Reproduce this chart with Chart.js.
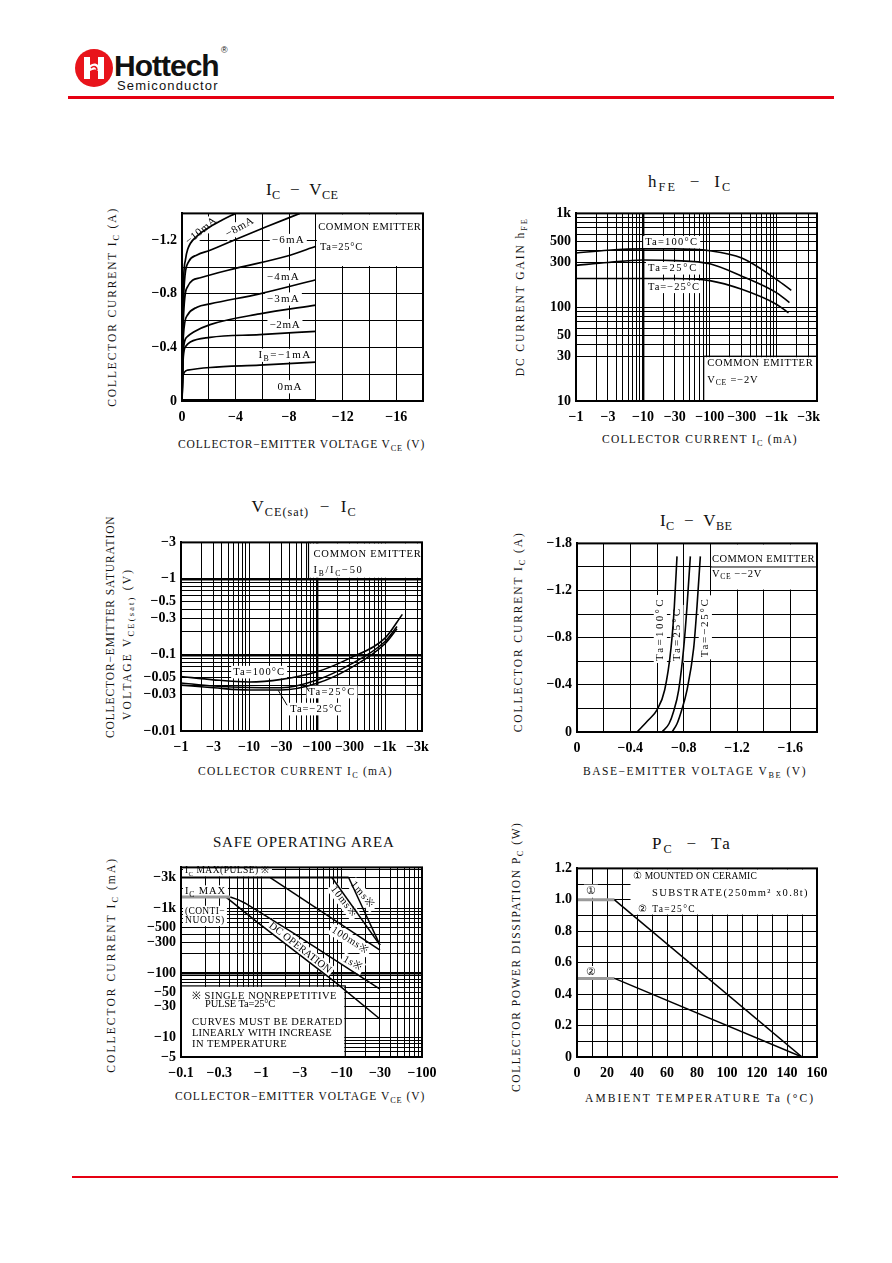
<!DOCTYPE html>
<html lang="en">
<head>
<meta charset="utf-8">
<title>Hottech Semiconductor – characteristic curves</title>
<script src="https://cdn.jsdelivr.net/npm/chart.js@4.4.1/dist/chart.umd.min.js"></script>
<style>
html,body{margin:0;padding:0;background:#fff;}
body{position:relative;width:892px;height:1263px;overflow:hidden;}
canvas.cv{position:absolute;}
.t{position:absolute;left:0;top:0;white-space:nowrap;color:#111;font-family:"Liberation Serif","DejaVu Serif",serif;line-height:1;}
.t sub{font-size:0.72em;vertical-align:-0.35em;line-height:0;}
.ttl{font-size:17px;}
.ttl5{font-size:15px;}
.ax{font-size:11.5px;}
</style>
</head>
<body>

<!-- header -->
<svg style="position:absolute;left:74px;top:48px" width="40" height="40" viewBox="0 0 40 40">
  <circle cx="20" cy="20" r="19" fill="#e8141b"/>
  <path d="M10 9 h6 v8 c3 -2 6 -2 8 0 v-8 h6 v22 h-6 v-8 c-2 -2 -5 -2 -8 0 v8 h-6 z" fill="#fff"/>
  <path d="M17 20 c3 -3 6 -1 6 2" stroke="#e8141b" stroke-width="1.6" fill="none"/>
</svg>
<div style="position:absolute;left:114px;top:51px;font:bold 30px 'Liberation Sans',Arial,sans-serif;line-height:30px;color:#111;letter-spacing:-1px">Hottech</div>
<div style="position:absolute;left:221px;top:45px;font:9px 'Liberation Sans',sans-serif;color:#111">®</div>
<div class="fit" data-w="102" style="position:absolute;left:117px;top:79px;font:13px 'Liberation Sans',sans-serif;line-height:13px;color:#111;white-space:nowrap">Semiconductor</div>
<div style="position:absolute;left:68px;top:96px;width:766px;height:3px;background:#e60012"></div>
<div style="position:absolute;left:72px;top:1176px;width:766px;height:2px;background:#e60012"></div>

<!-- chart titles -->
<div class="t ttl" data-cx="302" data-cy="189" data-w="72">I<sub>C</sub>&nbsp;&nbsp;−&nbsp;&nbsp;V<sub>CE</sub></div>
<div class="t ttl" data-cx="690" data-cy="181" data-w="84">h<sub>FE</sub>&nbsp;&nbsp;−&nbsp;&nbsp;I<sub>C</sub></div>
<div class="t ttl" data-cx="304" data-cy="506" data-w="105">V<sub>CE(sat)</sub>&nbsp;&nbsp;−&nbsp;&nbsp;I<sub>C</sub></div>
<div class="t ttl" data-cx="696" data-cy="520" data-w="72">I<sub>C</sub>&nbsp;&nbsp;−&nbsp;&nbsp;V<sub>BE</sub></div>
<div class="t ttl5" data-cx="304" data-cy="842" data-w="182">SAFE OPERATING AREA</div>
<div class="t ttl" data-cx="692" data-cy="843" data-w="80">P<sub>C</sub>&nbsp;&nbsp;−&nbsp;&nbsp;Ta</div>

<!-- axis titles -->
<div class="t ax" data-cx="301.5" data-cy="445" data-w="247">COLLECTOR−EMITTER VOLTAGE V<sub>CE</sub> (V)</div>
<div class="t ax" data-cx="113" data-cy="307" data-w="200" data-rot="1">COLLECTOR CURRENT I<sub>C</sub> (A)</div>
<div class="t ax" data-cx="700" data-cy="440" data-w="196">COLLECTOR CURRENT I<sub>C</sub> (mA)</div>
<div class="t ax" data-cx="520" data-cy="297" data-w="159" data-rot="1">DC CURRENT GAIN h<sub>FE</sub></div>
<div class="t ax" data-cx="295.5" data-cy="772" data-w="195">COLLECTOR CURRENT I<sub>C</sub> (mA)</div>
<div class="t ax" data-cx="110" data-cy="626.5" data-w="223" data-rot="1">COLLECTOR−EMITTER SATURATION</div>
<div class="t ax" data-cx="128" data-cy="644" data-w="152" data-rot="1">VOLTAGE V<sub>CE(sat)</sub> (V)</div>
<div class="t ax" data-cx="695" data-cy="772" data-w="224">BASE−EMITTER VOLTAGE V<sub>BE</sub> (V)</div>
<div class="t ax" data-cx="518" data-cy="632" data-w="201" data-rot="1">COLLECTOR CURRENT I<sub>C</sub> (A)</div>
<div class="t ax" data-cx="300" data-cy="1097" data-w="250">COLLECTOR−EMITTER VOLTAGE V<sub>CE</sub> (V)</div>
<div class="t ax" data-cx="112" data-cy="965" data-w="216" data-rot="1">COLLECTOR CURRENT I<sub>C</sub> (mA)</div>
<div class="t ax" data-cx="700" data-cy="1099" data-w="230">AMBIENT TEMPERATURE Ta (°C)</div>
<div class="t ax" data-cx="517" data-cy="957" data-w="270" data-rot="1">COLLECTOR POWER DISSIPATION P<sub>C</sub> (W)</div>

<script>
// ================= DATA =================
// All currents / voltages are plotted as magnitudes; the printed tick labels carry the minus sign.

// ---- Chart 1: IC - VCE  (|VCE| V, |IC| A) ----
const c1GridX = [0, 2, 4, 6, 8, 10, 12, 14, 16, 18];
const c1GridY = [0, 0.2, 0.4, 0.6, 0.8, 1.0, 1.2, 1.4];
const c1TickX = [0, 4, 8, 12, 16];
const c1TickXLabels = ['0', '−4', '−8', '−12', '−16'];
const c1TickY = [0, 0.4, 0.8, 1.2];
const c1TickYLabels = ['0', '−0.4', '−0.8', '−1.2'];
const ib10mA = [[0, 0], [0.1, 0.85], [0.25, 1.05], [0.42, 1.13], [1.12, 1.23], [2.1, 1.30], [3.0, 1.35], [4.0, 1.40]];
const ib8mA  = [[0, 0], [0.1, 0.75], [0.5, 1.04], [1.12, 1.09], [2.1, 1.125], [4.0, 1.205], [6.3, 1.30], [8.8, 1.40]];
const ib6mA  = [[0, 0], [0.1, 0.60], [0.4, 0.85], [1.37, 0.92], [4.0, 0.99], [7.8, 1.08], [10, 1.155]];
const ib4mA  = [[0, 0], [0.1, 0.48], [0.4, 0.64], [1.12, 0.70], [2.1, 0.725], [5.8, 0.80], [10, 0.905]];
const ib3mA  = [[0, 0], [0.1, 0.38], [0.4, 0.48], [0.87, 0.515], [2.1, 0.57], [5.8, 0.65], [10, 0.715]];
const ib2mA  = [[0, 0], [0.1, 0.33], [0.3, 0.41], [0.62, 0.44], [2.1, 0.475], [5.8, 0.495], [10, 0.52]];
const ib1mA  = [[0, 0], [0.08, 0.19], [0.42, 0.23], [2.1, 0.25], [5.8, 0.267], [10, 0.29]];
const ib0mA  = [[0, 0], [10, 0]];

// ---- Chart 2: hFE - IC  (|IC| mA, hFE) ----
const c2GridX = [1, 2, 3, 4, 5, 6, 7, 8, 9, 10, 20, 30, 40, 50, 60, 70, 80, 90, 100, 200, 300, 400, 500, 600, 700, 800, 900, 1000, 2000, 3000, 4000];
const c2GridY = [10, 30, 40, 50, 60, 70, 80, 90, 100, 200, 300, 400, 500, 600, 700, 800, 900, 1000];
const c2TickX = [1, 3, 10, 30, 100, 300, 1000, 3000];
const c2TickXLabels = ['−1', '−3', '−10', '−30', '−100', '−300', '−1k', '−3k'];
const c2TickY = [10, 30, 50, 100, 300, 500, 1000];
const c2TickYLabels = ['10', '30', '50', '100', '300', '500', '1k'];
const hfeTa100 = [[1, 378], [3, 405], [10, 419], [30, 419], [100, 400], [300, 334], [1000, 197], [1650, 151]];
const hfeTa25  = [[1, 279], [3, 300], [10, 318], [30, 314], [100, 290], [300, 214], [1000, 142], [1550, 112]];
const hfeTaM25 = [[1, 202], [10, 202], [30, 202], [100, 192], [300, 155], [1000, 107], [1500, 87]];

// ---- Chart 3: VCE(sat) - IC  (|IC| mA, |VCE(sat)| V) ----
const c3GridX = [1, 2, 3, 4, 5, 6, 7, 8, 9, 10, 20, 30, 40, 50, 60, 70, 80, 90, 100, 200, 300, 400, 500, 600, 700, 800, 900, 1000, 2000, 3000];
const c3GridY = [0.01, 0.03, 0.04, 0.05, 0.06, 0.07, 0.08, 0.09, 0.1, 0.2, 0.3, 0.4, 0.5, 0.6, 0.7, 0.8, 0.9, 1, 3];
const c3TickX = [1, 3, 10, 30, 100, 300, 1000, 3000];
const c3TickXLabels = ['−1', '−3', '−10', '−30', '−100', '−300', '−1k', '−3k'];
const c3TickY = [0.01, 0.03, 0.05, 0.1, 0.3, 0.5, 1, 3];
const c3TickYLabels = ['−0.01', '−0.03', '−0.05', '−0.1', '−0.3', '−0.5', '−1', '−3'];
const vsatTa100 = [[1, 0.052], [3, 0.047], [10, 0.044], [30, 0.0477], [100, 0.060], [300, 0.090], [1000, 0.166], [1800, 0.34]];
const vsatTa25  = [[1, 0.0427], [3, 0.039], [10, 0.0372], [30, 0.037], [100, 0.0468], [300, 0.0738], [1000, 0.15], [1500, 0.236]];
const vsatTaM25 = [[1, 0.040], [3, 0.037], [10, 0.0345], [30, 0.0345], [100, 0.0423], [300, 0.066], [1000, 0.14], [1500, 0.22]];

// ---- Chart 4: IC - VBE  (|VBE| V, |IC| A) ----
const c4GridX = [0, 0.2, 0.4, 0.6, 0.8, 1.0, 1.2, 1.4, 1.6, 1.8];
const c4GridY = [0, 0.2, 0.4, 0.6, 0.8, 1.0, 1.2, 1.4, 1.6];
const c4TickX = [0, 0.4, 0.8, 1.2, 1.6];
const c4TickXLabels = ['0', '−0.4', '−0.8', '−1.2', '−1.6'];
const c4TickY = [0, 0.4, 0.8, 1.2, 1.6];
const c4TickYLabels = ['0', '−0.4', '−0.8', '−1.2', '−1.8'];
const vbeTa100 = [[0.45, 0], [0.5375, 0.104], [0.6, 0.188], [0.6575, 0.356], [0.705, 0.711], [0.73, 1.064], [0.75, 1.49]];
const vbeTa25  = [[0.6375, 0], [0.69, 0.07], [0.725, 0.176], [0.7625, 0.356], [0.8, 0.711], [0.825, 1.064], [0.85, 1.49]];
const vbeTaM25 = [[0.7125, 0], [0.75, 0.07], [0.7825, 0.176], [0.825, 0.356], [0.875, 0.711], [0.9, 1.064], [0.925, 1.49]];

// ---- Chart 5: Safe operating area  (|VCE| V, |IC| mA) ----
const c5GridX = [0.1, 0.2, 0.3, 0.4, 0.5, 0.6, 0.7, 0.8, 0.9, 1, 2, 3, 4, 5, 6, 7, 8, 9, 10, 20, 30, 40, 50, 60, 70, 80, 90, 100];
const c5GridY = [5, 6, 7, 8, 9, 10, 20, 30, 40, 50, 60, 70, 80, 90, 100, 200, 300, 400, 500, 600, 700, 800, 900, 1000, 2000, 3000, 4000];
const c5TickX = [0.1, 0.3, 1, 3, 10, 30, 100];
const c5TickXLabels = ['−0.1', '−0.3', '−1', '−3', '−10', '−30', '−100'];
const c5TickY = [5, 10, 30, 50, 100, 300, 500, 1000, 3000];
const c5TickYLabels = ['−5', '−10', '−30', '−50', '−100', '−300', '−500', '−1k', '−3k'];
const soaIcMaxPulse = [[0.1, 3000], [12.2, 3000]];
const soaIcMax      = [[0.1, 1500], [0.41, 1500]];
const soa1ms        = [[12.2, 3000], [30, 270]];
const soa10ms       = [[7.57, 3000], [30, 270]];
const soa100ms      = [[1.29, 3000], [30, 225]];
const soa1s         = [[0.41, 1500], [0.52, 1350], [0.63, 1200], [2.4, 430], [30, 56]];
const soaDC         = [[0.36, 1500], [0.92, 590], [8.3, 72], [30, 19.4]];

// ---- Chart 6: PC - Ta  (Ta °C, PC W) ----
const c6GridX = [0, 10, 20, 30, 40, 50, 60, 70, 80, 90, 100, 110, 120, 130, 140, 150, 160];
const c6GridY = [0, 0.1, 0.2, 0.3, 0.4, 0.5, 0.6, 0.7, 0.8, 0.9, 1.0, 1.1, 1.2];
const c6TickX = [0, 20, 40, 60, 80, 100, 120, 140, 160];
const c6TickXLabels = ['0', '20', '40', '60', '80', '100', '120', '140', '160'];
const c6TickY = [0, 0.2, 0.4, 0.6, 0.8, 1.0, 1.2];
const c6TickYLabels = ['0', '0.2', '0.4', '0.6', '0.8', '1.0', '1.2'];
const pcCeramic = [[0, 1.0], [25, 1.0], [150, 0]];
const pcFreeAir = [[0, 0.5], [25, 0.5], [150, 0]];

// ================= RENDERING =================
const FONT = 'Liberation Serif';
const NOTE_FONT = '"Liberation Serif", "DejaVu Serif", serif';
Chart.defaults.font.family = FONT;
Chart.defaults.color = '#000';
const PAD = { l: 52, t: 12, r: 26, b: 26 };

function buildScale(o, pos) {
  return {
    type: o.type, min: o.min, max: o.max, position: pos, bounds: 'data',
    afterBuildTicks: s => { s.ticks = o.grid.map(v => ({ value: v })); },
    afterFit: s => {
      if (pos === 'left') { s.width = PAD.l; }
      else { s.height = PAD.b; s.paddingLeft = 0; s.paddingRight = 0; }
    },
    ticks: {
      autoSkip: false, maxRotation: 0, minRotation: 0, color: '#000',
      padding: pos === 'left' ? 5 : 8,
      font: { family: FONT, size: 14, weight: 'bold' },
      callback: v => { const i = o.tv.indexOf(v); return i < 0 ? '' : o.tl[i]; }
    },
    grid: {
      color: '#000', drawTicks: false,
      lineWidth: c => (o.heavy && c.tick && o.heavy.includes(c.tick.value)) ? 2.4 : 1
    },
    border: { display: true, color: '#000', width: 2 }
  };
}

function curve(pts, o = {}) {
  const d = {
    data: pts.map(([x, y]) => ({ x, y })),
    borderColor: o.color || '#000', borderWidth: o.w || 1.6,
    pointRadius: 0, fill: false, tension: 0,
    cubicInterpolationMode: o.smooth ? 'monotone' : 'default'
  };
  if (o.segment) d.segment = o.segment;
  return d;
}

function drawNote(ctx, n, x, y, mode) {
  const size = n.size || 10.5;
  const segs = (Array.isArray(n.t) ? n.t : [n.t]).map(s => typeof s === 'string' ? { s, k: '' } : { s: s[0], k: s[1] });
  const fontOf = k => (k ? (size * 0.72).toFixed(1) : size) + 'px ' + NOTE_FONT;
  const hasLS = 'letterSpacing' in ctx;
  if (hasLS) ctx.letterSpacing = '0px';
  let w = 0, chars = 0;
  segs.forEach(g => { ctx.font = fontOf(g.k); g.w = ctx.measureText(g.s).width; w += g.w; chars += g.s.length; });
  let ls = 0;
  if (n.w && hasLS && chars > 1) { ls = (n.w - w) / chars; w = n.w; }
  ctx.save();
  ctx.translate(x, y);
  if (n.a) ctx.rotate(n.a * Math.PI / 180);
  let x0 = n.al === 'left' ? 0 : n.al === 'right' ? -w : -w / 2;
  if (mode === 'bg') {
    ctx.fillStyle = '#fff';
    ctx.fillRect(x0 - 2, -size * 0.6, w + 4, size * 1.2);
  } else {
    ctx.fillStyle = '#000'; ctx.textBaseline = 'middle'; ctx.textAlign = 'left';
    segs.forEach(g => {
      ctx.font = fontOf(g.k);
      if (hasLS) ctx.letterSpacing = ls + 'px';
      const dy = g.k === 'sub' ? size * 0.32 : g.k === 'sup' ? -size * 0.35 : 0;
      ctx.fillText(g.s, x0, dy);
      x0 += g.w + ls * g.s.length;
    });
  }
  ctx.restore();
  if (hasLS) ctx.letterSpacing = '0px';
}

function notesPlugin(notes) {
  const PX = (c, v) => c.scales.x.getPixelForValue(v);
  const PY = (c, v) => c.scales.y.getPixelForValue(v);
  return {
    id: 'notes',
    beforeDatasetsDraw(c) {
      const ctx = c.ctx;
      ctx.save();
      (notes.boxes || []).forEach(b => {
        const xa = PX(c, b.x0), xb = PX(c, b.x1), ya = PY(c, b.y0), yb = PY(c, b.y1);
        const x0 = Math.min(xa, xb), x1 = Math.max(xa, xb), y0 = Math.min(ya, yb), y1 = Math.max(ya, yb);
        ctx.fillStyle = '#fff';
        ctx.fillRect(x0 + 1, y0 + 1, x1 - x0 - 2, y1 - y0 - 2);
        if (b.stroke) { ctx.strokeStyle = '#000'; ctx.lineWidth = 1.2; ctx.strokeRect(x0, y0, x1 - x0, y1 - y0); }
      });
      (notes.texts || []).forEach(n => { if (n.bg) drawNote(ctx, n, PX(c, n.x), PY(c, n.y), 'bg'); });
      (notes.lines || []).forEach(l => {
        ctx.strokeStyle = '#000'; ctx.lineWidth = l.w || 1;
        ctx.beginPath(); ctx.moveTo(PX(c, l.x0), PY(c, l.y0)); ctx.lineTo(PX(c, l.x1), PY(c, l.y1)); ctx.stroke();
      });
      ctx.restore();
    },
    afterDatasetsDraw(c) {
      const ctx = c.ctx;
      (notes.texts || []).forEach(n => drawNote(ctx, n, PX(c, n.x), PY(c, n.y), 'text'));
    },
    afterDraw(c) {
      const a = c.chartArea, ctx = c.ctx;
      ctx.save(); ctx.strokeStyle = '#000'; ctx.lineWidth = 2;
      ctx.strokeRect(a.left, a.top, a.right - a.left, a.bottom - a.top);
      ctx.restore();
    }
  };
}

function makeChart(box, sx, sy, datasets, notes) {
  const cv = document.createElement('canvas');
  cv.className = 'cv';
  const W = box.R - box.L + PAD.l + PAD.r, H = box.B - box.T + PAD.t + PAD.b;
  cv.width = W; cv.height = H;
  cv.style.left = (box.L - PAD.l) + 'px'; cv.style.top = (box.T - PAD.t) + 'px';
  cv.style.width = W + 'px'; cv.style.height = H + 'px';
  document.body.appendChild(cv);
  return new Chart(cv, {
    type: 'line',
    data: { datasets },
    options: {
      responsive: false, animation: false, events: [], devicePixelRatio: 1,
      layout: { padding: { top: PAD.t, right: PAD.r, left: 0, bottom: 0 } },
      plugins: { legend: { display: false }, tooltip: { enabled: false } },
      scales: { x: buildScale(sx, 'bottom'), y: buildScale(sy, 'left') }
    },
    plugins: [notesPlugin(notes)]
  });
}

// ---- Chart 1 ----
makeChart({ L: 182, T: 212, R: 423, B: 401 },
  { type: 'linear', min: 0, max: 18, grid: c1GridX, tv: c1TickX, tl: c1TickXLabels },
  { type: 'linear', min: 0, max: 1.4, grid: c1GridY, tv: c1TickY, tl: c1TickYLabels },
  [curve(ib10mA, { smooth: 1, w: 1.7 }), curve(ib8mA, { smooth: 1, w: 1.7 }), curve(ib6mA, { smooth: 1, w: 1.7 }),
   curve(ib4mA, { smooth: 1, w: 1.7 }), curve(ib3mA, { smooth: 1, w: 1.7 }), curve(ib2mA, { smooth: 1, w: 1.7 }),
   curve(ib1mA, { smooth: 1, w: 1.7 }), curve(ib0mA, { w: 4 })],
  {
    boxes: [{ x0: 10, x1: 18, y0: 1.0, y1: 1.4 }],
    texts: [
      { t: '−10mA', x: 1.44, y: 1.27, a: -39, bg: 1, w: 37, size: 11 },
      { t: '−8mA', x: 4.33, y: 1.296, a: -29, bg: 1, w: 31, size: 11 },
      { t: '−6mA', x: 7.94, y: 1.198, bg: 1, w: 33, size: 11 },
      { t: '−4mA', x: 7.57, y: 0.926, bg: 1, w: 33, size: 11 },
      { t: '−3mA', x: 7.57, y: 0.761, bg: 1, w: 33, size: 11 },
      { t: '−2mA', x: 7.69, y: 0.563, bg: 1, w: 31, size: 11 },
      { t: ['I', ['B', 'sub'], '=−1mA'], x: 7.69, y: 0.341, bg: 1, w: 53, size: 11 },
      { t: '0mA', x: 8.07, y: 0.106, bg: 1, w: 25, size: 11 },
      { t: 'COMMON EMITTER', x: 10.18, y: 1.296, al: 'left', w: 103 },
      { t: 'Ta=25°C', x: 10.3, y: 1.148, al: 'left', w: 43 }
    ]
  });

// ---- Chart 2 ----
makeChart({ L: 576, T: 212, R: 817, B: 401 },
  { type: 'logarithmic', min: 1, max: 4000, grid: c2GridX, tv: c2TickX, tl: c2TickXLabels, heavy: [10] },
  { type: 'logarithmic', min: 10, max: 1000, grid: c2GridY, tv: c2TickY, tl: c2TickYLabels },
  [curve(hfeTa100, { smooth: 1 }), curve(hfeTa25, { smooth: 1 }), curve(hfeTaM25, { smooth: 1 })],
  {
    boxes: [{ x0: 81, x1: 4000, y0: 10, y1: 30, stroke: 1 }],
    texts: [
      { t: 'Ta=100°C', x: 10.8, y: 493, al: 'left', bg: 1, w: 53 },
      { t: 'Ta=25°C', x: 11.9, y: 260, al: 'left', bg: 1, w: 50 },
      { t: 'Ta=−25°C', x: 11.9, y: 165, al: 'left', bg: 1, w: 52 },
      { t: 'COMMON EMITTER', x: 91.9, y: 25.4, al: 'left', w: 106 },
      { t: ['V', ['CE', 'sub'], ' =−2V'], x: 91.9, y: 16.7, al: 'left', w: 51 }
    ]
  });

// ---- Chart 3 ----
makeChart({ L: 181, T: 541, R: 422, B: 731 },
  { type: 'logarithmic', min: 1, max: 3500, grid: c3GridX, tv: c3TickX, tl: c3TickXLabels, heavy: [100] },
  { type: 'logarithmic', min: 0.01, max: 3, grid: c3GridY, tv: c3TickY, tl: c3TickYLabels, heavy: [1, 0.1] },
  [curve(vsatTa100, { smooth: 1 }), curve(vsatTa25, { smooth: 1 }), curve(vsatTaM25, { smooth: 1 })],
  {
    boxes: [{ x0: 75, x1: 3500, y0: 1, y1: 3, stroke: 1 }],
    lines: [{ x0: 26.9, y0: 0.0342, x1: 36.3, y1: 0.0218 }, { x0: 67.1, y0: 0.0398, x1: 76.7, y1: 0.0331 }],
    texts: [
      { t: 'Ta=100°C', x: 14.1, y: 0.0593, bg: 1, w: 52 },
      { t: 'Ta=25°C', x: 166, y: 0.0325, bg: 1, w: 47 },
      { t: 'Ta=−25°C', x: 97.4, y: 0.0194, bg: 1, w: 52 },
      { t: 'COMMON EMITTER', x: 88.9, y: 2.09, al: 'left', w: 108 },
      { t: ['I', ['B', 'sub'], '/I', ['C', 'sub'], '−50'], x: 88.9, y: 1.29, al: 'left', w: 50 }
    ]
  });

// ---- Chart 4 ----
makeChart({ L: 577, T: 542, R: 817, B: 732 },
  { type: 'linear', min: 0, max: 1.8, grid: c4GridX, tv: c4TickX, tl: c4TickXLabels },
  { type: 'linear', min: 0, max: 1.6, grid: c4GridY, tv: c4TickY, tl: c4TickYLabels },
  [curve(vbeTa100, { smooth: 1 }), curve(vbeTa25, { smooth: 1 }), curve(vbeTaM25, { smooth: 1 })],
  {
    boxes: [{ x0: 1.0, x1: 1.8, y0: 1.2, y1: 1.6 }],
    lines: [{ x0: 1.0, y0: 1.4, x1: 1.8, y1: 1.4 }],
    texts: [
      { t: 'Ta=100°C', x: 0.625, y: 0.874, a: -90, bg: 1, w: 64, size: 11 },
      { t: 'Ta=25°C', x: 0.75, y: 0.832, a: -90, bg: 1, w: 54, size: 11 },
      { t: 'Ta=−25°C', x: 0.9625, y: 0.888, a: -90, bg: 1, w: 60, size: 11 },
      { t: 'COMMON EMITTER', x: 1.0125, y: 1.462, al: 'left', w: 103 },
      { t: ['V', ['CE', 'sub'], ' −−2V'], x: 1.0125, y: 1.341, al: 'left', w: 50 }
    ]
  });

// ---- Chart 5 ----
makeChart({ L: 181, T: 866, R: 422, B: 1057 },
  { type: 'logarithmic', min: 0.1, max: 100, grid: c5GridX, tv: c5TickX, tl: c5TickXLabels },
  { type: 'logarithmic', min: 5, max: 4300, grid: c5GridY, tv: c5TickY, tl: c5TickYLabels, heavy: [100] },
  [curve(soaIcMaxPulse, { w: 1.8 }), curve(soaIcMax, { w: 3, color: '#9a9a9a' }),
   curve(soa1ms, { w: 1.5 }), curve(soa10ms, { w: 1.5 }), curve(soa100ms, { w: 1.5 }),
   curve(soa1s, { w: 1.5 }), curve(soaDC, { w: 1.5 })],
  {
    boxes: [{ x0: 0.1, x1: 11.1, y0: 5, y1: 63, stroke: 1 }],
    texts: [
      { t: ['I', ['C', 'sub'], ' MAX(PULSE) ※'], x: 0.112, y: 3800, al: 'left', bg: 1, w: 85, size: 9.5 },
      { t: ['I', ['C', 'sub'], ' MAX'], x: 0.112, y: 1810, al: 'left', bg: 1, w: 41 },
      { t: '(CONTI−', x: 0.112, y: 893, al: 'left', bg: 1, w: 40, size: 9.5 },
      { t: 'NUOUS)', x: 0.112, y: 650, al: 'left', bg: 1, w: 40, size: 9.5 },
      { t: 'DC OPERATION', x: 3.03, y: 244, a: 38, bg: 1, w: 76 },
      { t: '1s※', x: 13.7, y: 140, a: 30, bg: 1, w: 20 },
      { t: '100ms※', x: 12.8, y: 320, a: 32, bg: 1, w: 42 },
      { t: '10ms※', x: 10.6, y: 1271, a: 52, bg: 1, w: 36 },
      { t: '1ms※', x: 18.3, y: 1610, a: 50, bg: 1, w: 32 },
      { t: '※ SINGLE NONREPETITIVE', x: 0.137, y: 44.3, al: 'left', w: 145 },
      { t: 'PULSE Ta=25°C', x: 0.199, y: 33.3, al: 'left', w: 70 },
      { t: 'CURVES MUST BE DERATED', x: 0.137, y: 17.2, al: 'left', w: 151 },
      { t: 'LINEARLY WITH INCREASE', x: 0.137, y: 11.7, al: 'left', w: 140 },
      { t: 'IN TEMPERATURE', x: 0.137, y: 7.8, al: 'left', w: 95 }
    ]
  });

// ---- Chart 6 ----
const graySeg = { borderColor: c => c.p0.parsed.x < 25 ? '#9a9a9a' : '#000', borderWidth: c => c.p0.parsed.x < 25 ? 3 : 1.5 };
makeChart({ L: 577, T: 867, R: 817, B: 1057 },
  { type: 'linear', min: 0, max: 160, grid: c6GridX, tv: c6TickX, tl: c6TickXLabels },
  { type: 'linear', min: 0, max: 1.2, grid: c6GridY, tv: c6TickY, tl: c6TickYLabels },
  [curve(pcCeramic, { segment: graySeg }), curve(pcFreeAir, { segment: graySeg })],
  {
    boxes: [{ x0: 35, x1: 160, y0: 0.9, y1: 1.2 }],
    texts: [
      { t: '①', x: 9.3, y: 1.055, bg: 1, size: 11 },
      { t: '②', x: 9.3, y: 0.537, bg: 1, size: 11 },
      { t: '① MOUNTED ON CERAMIC', x: 37.3, y: 1.15, al: 'left', w: 124, size: 9.5 },
      { t: 'SUBSTRATE(250mm² x0.8t)', x: 50, y: 1.042, al: 'left', w: 157 },
      { t: '② Ta=25°C', x: 40.7, y: 0.941, al: 'left', w: 58, size: 9.5 }
    ]
  });

// ---- fit and place HTML text ----
document.querySelectorAll('.fit').forEach(el => {
  el.style.letterSpacing = '0px';
  const w0 = el.offsetWidth, n = el.textContent.length;
  el.style.letterSpacing = ((+el.dataset.w - w0) / n) + 'px';
});
document.querySelectorAll('.t').forEach(el => {
  if (el.dataset.w) {
    el.style.letterSpacing = '0px';
    const w0 = el.offsetWidth, n = el.textContent.length;
    el.style.letterSpacing = ((+el.dataset.w - w0) / n) + 'px';
  }
  const w = el.offsetWidth, h = el.offsetHeight;
  el.style.left = (+el.dataset.cx - w / 2) + 'px';
  el.style.top = (+el.dataset.cy - h / 2) + 'px';
  if (el.dataset.rot) el.style.transform = 'rotate(-90deg)';
});
</script>
</body>
</html>
